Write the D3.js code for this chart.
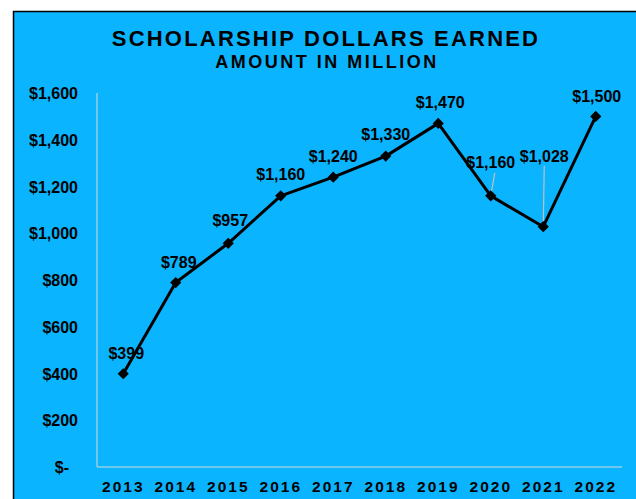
<!DOCTYPE html>
<html><head><meta charset="utf-8">
<script src="https://cdn.jsdelivr.net/npm/d3@7"></script>
<style>
html,body{margin:0;padding:0;background:#fff;}
svg{display:block;}
text{font-family:"Liberation Sans",Arial,sans-serif;font-weight:bold;fill:#000;}
</style></head>
<body>
<svg id="c" width="636" height="499"></svg>
<script>
const years = ["2013","2014","2015","2016","2017","2018","2019","2020","2021","2022"];
const amounts = [399, 789, 957, 1160, 1240, 1330, 1470, 1160, 1028, 1500];
const yTicks = [0, 200, 400, 600, 800, 1000, 1200, 1400, 1600];
const title = "SCHOLARSHIP DOLLARS EARNED";
const subtitle = "AMOUNT IN MILLION";

// label placement (style, not data): offset above point, leader flag
const labelDy = [-20, -20, -23, -21, -21, -22, -21, -33, -70, -20];
const labelDx = [3, 3, 2, 0, 0, 0, 2, 0, 1, 1];
const leader = [false,false,false,false,false,false,false,true,true,false];

const svg = d3.select("#c");
svg.append("rect").attr("x",13.5).attr("y",11.5).attr("width",640).attr("height",500)
  .attr("fill","#0AB4FE").attr("stroke","#000").attr("stroke-width",1.5);

const x = d3.scaleBand().domain(years).range([97, 622]);
const y = d3.scaleLinear().domain([0,1600]).range([467, 93]);

svg.append("text").attr("x",326).attr("y",46).attr("text-anchor","middle")
  .style("font-size","22px").style("letter-spacing","2.2px").text(title);
svg.append("text").attr("x",327).attr("y",68).attr("text-anchor","middle")
  .style("font-size","18px").style("letter-spacing","2.5px").text(subtitle);

// axes lines
svg.append("line").attr("x1",97).attr("x2",97).attr("y1",y(1600)).attr("y2",y(0))
  .attr("stroke","#d9d9d9").attr("stroke-width",1);
svg.append("line").attr("x1",97).attr("x2",622).attr("y1",y(0)).attr("y2",y(0))
  .attr("stroke","#d9d9d9").attr("stroke-width",1);

const fmt = v => v === 0 ? "$-" : "$" + d3.format(",")(v);
const yAxis = d3.axisLeft(y).tickValues(yTicks).tickFormat(fmt).tickSize(0).tickPadding(0);
const gy = svg.append("g").attr("transform","translate(78,0)").call(yAxis);
gy.select(".domain").remove();
gy.selectAll("text").style("font-size","16px").attr("font-family",null)
  .attr("dy","0.35em")
  .attr("x", d => d === 0 ? -9 : 0);

const xAxis = d3.axisBottom(x).tickSize(0).tickPadding(0);
const gx = svg.append("g").attr("transform","translate(0,481)").call(xAxis);
gx.select(".domain").remove();
gx.selectAll("text").style("font-size","15.5px").style("letter-spacing","2px")
  .attr("font-family",null).attr("dy","0.71em");

const pts = years.map((yr,i)=>({yr, v: amounts[i], i}));
const cx = d => x(d.yr) + x.bandwidth()/2;

// leader lines
svg.selectAll(".ld").data(pts.filter(d=>leader[d.i])).enter().append("line")
  .attr("x1", d => cx(d) + (d.i===7?4:1)).attr("y1", d => y(d.v)+labelDy[d.i]+ (d.i===7?10:9))
  .attr("x2", d => cx(d)).attr("y2", d => y(d.v))
  .attr("stroke","#bfbfbf").attr("stroke-width",1.2);

svg.append("path").datum(pts)
  .attr("d", d3.line().x(cx).y(d=>y(d.v)))
  .attr("fill","none").attr("stroke","#000").attr("stroke-width",3).attr("stroke-linejoin","round");

svg.selectAll(".mk").data(pts).enter().append("path")
  .attr("d", d3.symbol(d3.symbolDiamond2, 80))
  .attr("transform", d => `translate(${cx(d)},${y(d.v)})`)
  .attr("fill","#000");

svg.selectAll(".lb").data(pts).enter().append("text")
  .attr("x", d => cx(d) + labelDx[d.i]).attr("y", d => y(d.v) + labelDy[d.i])
  .attr("dy","0.35em").attr("text-anchor","middle").style("font-size","16px")
  .text(d => "$" + d3.format(",")(d.v));
</script>
</body></html>
